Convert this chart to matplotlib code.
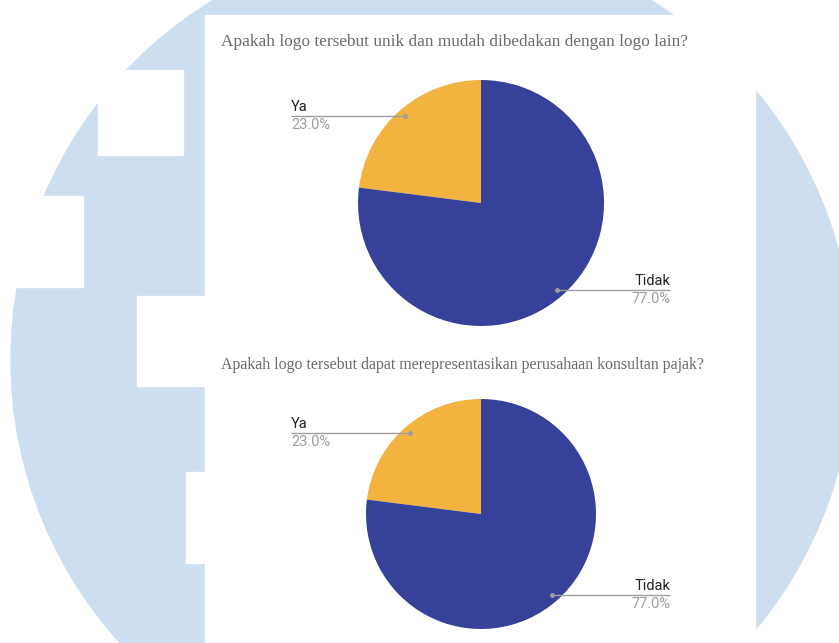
import numpy as np
import matplotlib
matplotlib.use("Agg")
import matplotlib.pyplot as plt
from matplotlib.patches import Circle, Rectangle

# chart data
titles = ["Apakah logo tersebut unik dan mudah dibedakan dengan logo lain?",
          "Apakah logo tersebut dapat merepresentasikan perusahaan konsultan pajak?"]
categories = ["Ya", "Tidak"]
shares_q1 = [23.0, 77.0]
shares_q2 = [23.0, 77.0]
colors = ["#f3b43f", "#36429a"]

W, H = 839, 643
fig = plt.figure(figsize=(W / 100, H / 100), dpi=100)
ax = fig.add_axes([0, 0, 1, 1])
ax.set_xlim(0, W)
ax.set_ylim(0, H)
ax.axis("off")

def py(y):
    # pixel row (from top) -> data y
    return H - y

# watermark behind the panel
blue = "#cddef0"
ax.add_patch(Circle((432, py(360)), 421, color=blue, zorder=0))
for x0, y0, x1, y1 in [(98, 70, 183, 155), (0, 196, 83, 287),
                       (137, 296, 205, 386), (186, 472, 205, 563)]:
    ax.add_patch(Rectangle((x0, py(y1)), x1 - x0, y1 - y0, color="white", zorder=1))
# white panel
ax.add_patch(Rectangle((205, 0), 550, py(15), color="white", zorder=1))

# layout for each question: title y, title size, pie center, radius
layouts = [
    dict(ty=42, fs=12.4, c=(481, 203), r=123),
    dict(ty=365, fs=11.4, c=(481, 514), r=115),
]

for title, shares, lay in zip(titles, [shares_q1, shares_q2], layouts):
    ax.text(221, py(lay["ty"]), title, family="Liberation Serif", fontsize=lay["fs"],
            color="#6a6a6a", va="center", ha="left", zorder=3)
    cx, cy = lay["c"][0], py(lay["c"][1])
    wedges, _ = ax.pie(shares, colors=colors, startangle=90, counterclock=True,
                       center=(cx, cy), radius=lay["r"], frame=True,
                       wedgeprops=dict(linewidth=0))
    for w in wedges:
        w.set_zorder(2)
    for w, name, val in zip(wedges, categories, shares):
        mid = np.deg2rad((w.theta1 + w.theta2) / 2)
        axp = cx + 0.94 * lay["r"] * np.cos(mid)
        ayp = cy + 0.94 * lay["r"] * np.sin(mid)
        if name == "Ya":
            lx = 291
            ha = "left"
        else:
            lx = 670
            ha = "right"
        ax.plot([axp, lx], [ayp, ayp], color="#9e9e9e", lw=1, zorder=3,
                solid_capstyle="butt")
        ax.plot([axp], [ayp], "o", color="#9e9e9e", ms=2.5, zorder=3)
        ax.text(lx, ayp + 2, name, family="Roboto", fontsize=10.5,
                color="#222222", ha=ha, va="bottom", zorder=3)
        ax.text(lx, ayp - 2, "%.1f%%" % val, family="Roboto", fontsize=10.5,
                color="#9e9e9e", ha=ha, va="top", zorder=3)

ax.set_xlim(0, W)
ax.set_ylim(0, H)
ax.set_aspect("auto")
ax.axis("off")

fig.savefig("out.png", dpi=100)
